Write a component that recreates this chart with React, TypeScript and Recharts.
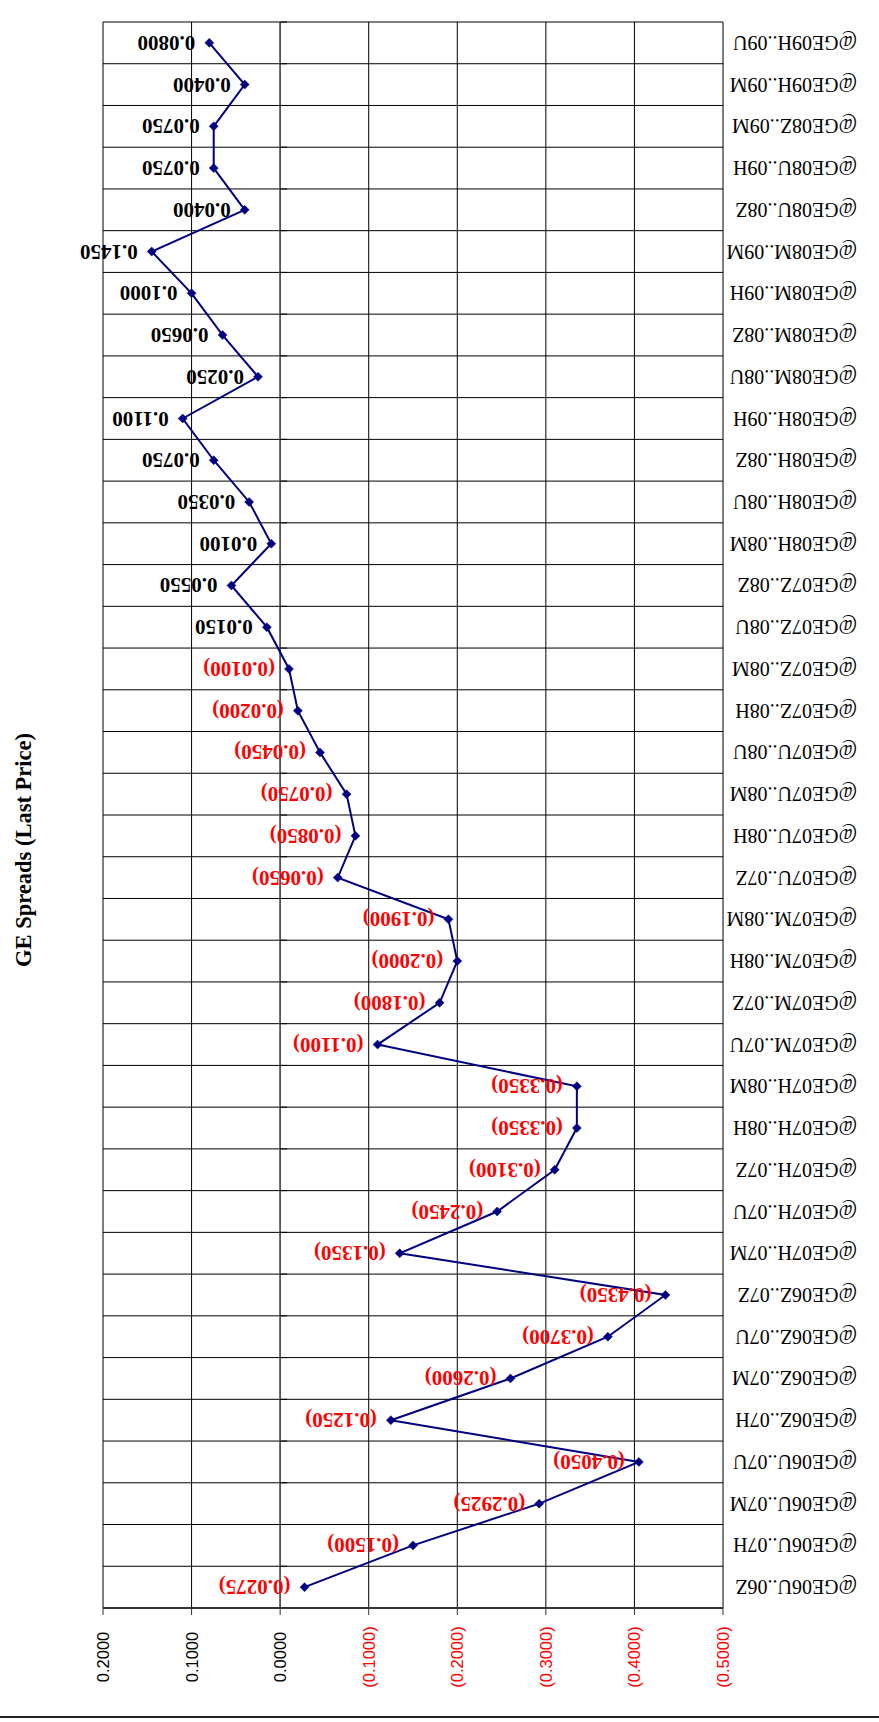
import React from 'react';
import { ComposedChart, Line, XAxis, YAxis, CartesianGrid, ReferenceLine, LabelList } from 'recharts';

const categories = [
  '@GE06U..06Z', '@GE06U..07H', '@GE06U..07M', '@GE06U..07U',
  '@GE06Z..07H', '@GE06Z..07M', '@GE06Z..07U', '@GE06Z..07Z',
  '@GE07H..07M', '@GE07H..07U', '@GE07H..07Z', '@GE07H..08H', '@GE07H..08M',
  '@GE07M..07U', '@GE07M..07Z', '@GE07M..08H', '@GE07M..08M',
  '@GE07U..07Z', '@GE07U..08H', '@GE07U..08M', '@GE07U..08U',
  '@GE07Z..08H', '@GE07Z..08M', '@GE07Z..08U', '@GE07Z..08Z',
  '@GE08H..08M', '@GE08H..08U', '@GE08H..08Z', '@GE08H..09H',
  '@GE08M..08U', '@GE08M..08Z', '@GE08M..09H', '@GE08M..09M',
  '@GE08U..08Z', '@GE08U..09H', '@GE08Z..09M', '@GE09H..09M', '@GE09H..09U',
];

const spreads = [
  -0.0275, -0.15, -0.2925, -0.405,
  -0.125, -0.26, -0.37, -0.435,
  -0.135, -0.245, -0.31, -0.335, -0.335,
  -0.11, -0.18, -0.2, -0.19,
  -0.065, -0.085, -0.075, -0.045,
  -0.02, -0.01, 0.015, 0.055,
  0.01, 0.035, 0.075, 0.11,
  0.025, 0.065, 0.1, 0.145,
  0.04, 0.075, 0.075, 0.04, 0.08,
];

const valueTicks = [0.2, 0.1, 0, -0.1, -0.2, -0.3, -0.4, -0.5];
const title = 'GE Spreads (Last Price)';

const data = categories.map((name, i) => ({ name, value: spreads[i] }));
const N = categories.length;

const CHART_W = 879;
const CHART_H = 1722;
const MARGIN_TOP = 22;
const X_AXIS_H = 114;
const PLOT_H = CHART_H - MARGIN_TOP - X_AXIS_H;
const HALF_ROW = PLOT_H / N / 2;

const fmt = (v: number) => (v < 0 ? `(${Math.abs(v).toFixed(4)})` : Math.abs(v).toFixed(4));

const ValueTick = (props: any) => {
  const { x, y, payload } = props;
  const v = payload.value;
  const cy = y + 42;
  return (
    <text
      x={x}
      y={cy}
      transform={`rotate(-90, ${x}, ${cy})`}
      textAnchor="middle"
      dominantBaseline="central"
      fill={v < 0 ? '#FF0000' : '#000000'}
      fontFamily="'Liberation Sans', Arial, sans-serif"
      fontSize={16.5}
    >
      {fmt(v)}
    </text>
  );
};

const CatTick = (props: any) => {
  const { x, y, payload } = props;
  const tx = x + 134;
  return (
    <text
      x={tx}
      y={y}
      transform={`rotate(180, ${tx}, ${y})`}
      textAnchor="start"
      dominantBaseline="central"
      fill="#000000"
      fontFamily="'Liberation Serif', 'Times New Roman', serif"
      fontSize={20}
    >
      {payload.value}
    </text>
  );
};

const DataLabel = (props: any) => {
  const x = props.x ?? props.viewBox?.x;
  const y = props.y ?? props.viewBox?.y;
  const value = Number(props.value);
  const tx = x - 14;
  return (
    <text
      x={tx}
      y={y}
      transform={`rotate(180, ${tx}, ${y})`}
      textAnchor="start"
      dominantBaseline="central"
      fill={value < 0 ? '#FF0000' : '#000000'}
      fontFamily="'Liberation Serif', 'Times New Roman', serif"
      fontWeight="bold"
      fontSize={21}
    >
      {fmt(value)}
    </text>
  );
};

const Diamond = (props: any) => {
  const { cx, cy, index } = props;
  if (cx == null || cy == null) return <g key={index} />;
  const s = 4.5;
  return (
    <path
      key={index}
      d={`M${cx},${cy - s}L${cx + s},${cy}L${cx},${cy + s}L${cx - s},${cy}Z`}
      fill="#000080"
      stroke="#000080"
      strokeWidth={0.5}
    />
  );
};

const ZeroAxis = (props: any) => {
  const { x1, y1, y2 } = props;
  const top = Math.min(y1, y2);
  const bot = Math.max(y1, y2);
  const marks = [];
  for (let i = 0; i <= N; i++) {
    const yy = top + (i * (bot - top)) / N;
    marks.push(<line key={i} x1={x1} x2={x1 + 7} y1={yy} y2={yy} stroke="#000" strokeWidth={1} />);
  }
  return (
    <g>
      <line x1={x1} y1={top} x2={x1} y2={bot} stroke="#555" strokeWidth={1.5} />
      {marks}
    </g>
  );
};

const rowLines = (p: any) => {
  const { offset } = p;
  const out: number[] = [];
  for (let i = 0; i <= N; i++) out.push(offset.top + (i * offset.height) / N);
  return out;
};

export default function App() {
  return (
    <div style={{ position: 'absolute', left: 0, top: 0, width: CHART_W, height: CHART_H, background: '#fff' }}>
      <ComposedChart
        width={CHART_W}
        height={CHART_H}
        data={data}
        layout="vertical"
        margin={{ top: MARGIN_TOP, right: 0, bottom: 0, left: 103 }}
      >
        <CartesianGrid
          stroke="#000"
          strokeWidth={1}
          horizontalCoordinatesGenerator={rowLines}
        />
        <XAxis
          type="number"
          domain={[-0.5, 0.2]}
          reversed
          ticks={valueTicks}
          interval={0}
          tick={<ValueTick />}
          axisLine={{ stroke: '#333', strokeWidth: 2 }}
          tickLine={{ stroke: '#333' }}
          tickSize={7}
          tickMargin={0}
          height={X_AXIS_H}
        />
        <YAxis
          type="category"
          dataKey="name"
          orientation="right"
          reversed
          interval={0}
          width={156}
          padding={{ top: HALF_ROW, bottom: HALF_ROW }}
          tickLine={false}
          axisLine={false}
          tickSize={0}
          tickMargin={0}
          tick={<CatTick />}
        />
        <ReferenceLine x={0} shape={<ZeroAxis />} />
        <Line
          dataKey="value"
          stroke="#000080"
          strokeWidth={2}
          dot={Diamond}
          activeDot={false}
          isAnimationActive={false}
        >
          <LabelList dataKey="value" content={<DataLabel />} />
        </Line>
      </ComposedChart>
      <svg
        width={CHART_W}
        height={CHART_H}
        style={{ position: 'absolute', left: 0, top: 0, pointerEvents: 'none' }}
      >
        <text
          x={23}
          y={850}
          transform="rotate(-90, 23, 850)"
          textAnchor="middle"
          dominantBaseline="central"
          fontFamily="'Liberation Serif', 'Times New Roman', serif"
          fontWeight="bold"
          fontSize={22.5}
          fill="#000"
        >
          {title}
        </text>
        <line x1={0} x2={CHART_W} y1={1717} y2={1717} stroke="#222" strokeWidth={2} />
      </svg>
    </div>
  );
}
